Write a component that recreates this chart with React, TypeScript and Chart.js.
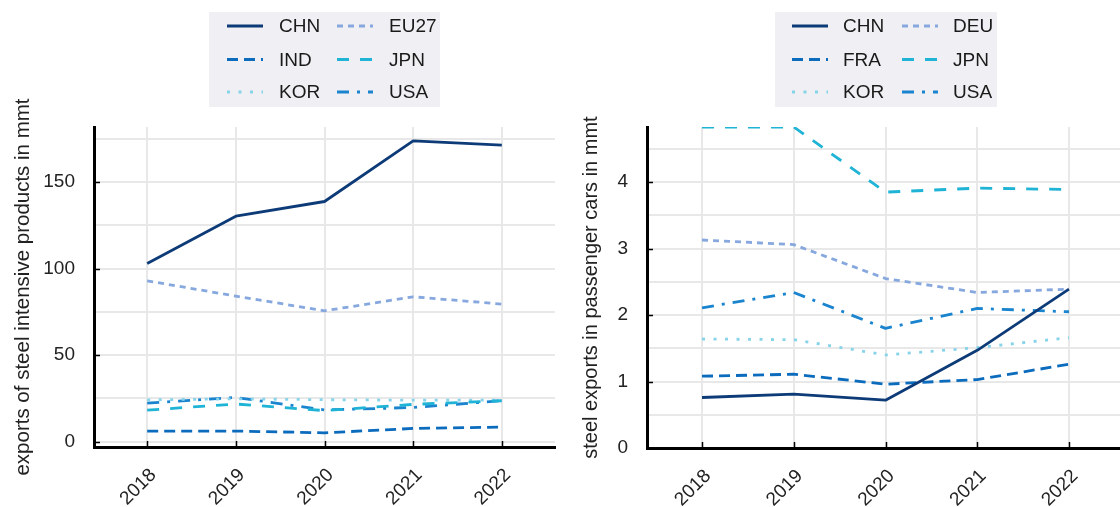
import React, { useEffect, useRef } from 'react';
import { Chart, registerables } from 'chart.js';

Chart.register(...registerables);

const FONT = '"Liberation Sans", Arial, Helvetica, sans-serif';
Chart.defaults.font.family = FONT;

// ---------- data ----------
const years = [2018, 2019, 2020, 2021, 2022];

// Left panel: exports of steel intensive products (mmt)
const leftCHN = [102.9, 130.2, 138.7, 173.7, 171.2];
const leftEU27 = [92.9, 84.1, 75.6, 83.7, 79.5];
const leftIND = [6.2, 6.2, 5.2, 7.7, 8.5];
const leftJPN = [18.3, 21.8, 18.0, 21.6, 23.7];
const leftKOR = [24.2, 24.8, 24.3, 24.0, 24.0];
const leftUSA = [22.3, 25.6, 18.4, 19.8, 23.7];
const leftYTickLabels = [0, 50, 100, 150];
const leftYGrid = [0, 25, 50, 75, 100, 125, 150, 175];

// Right panel: steel exports in passenger cars (mmt)
const rightCHN = [0.76, 0.81, 0.72, 1.47, 2.39];
const rightDEU = [3.13, 3.06, 2.55, 2.34, 2.39];
const rightFRA = [1.08, 1.11, 0.96, 1.03, 1.26];
const rightJPN = [4.83, 4.83, 3.85, 3.91, 3.89];
const rightKOR = [1.64, 1.63, 1.40, 1.51, 1.66];
const rightUSA = [2.11, 2.34, 1.80, 2.10, 2.05];
const rightYTickLabels = [0, 1, 2, 3, 4];
const rightYGrid = [0, 0.5, 1, 1.5, 2, 2.5, 3, 3.5, 4, 4.5];

// ---------- styles ----------
const STY = {
  CHN: { color: '#0d3b78', dash: [] as number[] },
  EU: { color: '#86a8de', dash: [6, 5] },
  MID: { color: '#0b6bbd', dash: [11, 6] },
  JPN: { color: '#1fb3d6', dash: [12, 11] },
  KOR: { color: '#86d3ea', dash: [3, 8.5] },
  USA: { color: '#1a84cf', dash: [12, 8, 3, 8] },
};

function ds(label: string, data: number[], s: { color: string; dash: number[] }) {
  return {
    label,
    data: data.map((y, i) => ({ x: years[i], y })),
    borderColor: s.color,
    backgroundColor: s.color,
    borderDash: s.dash,
    borderWidth: 2.8,
    borderCapStyle: 'butt',
    borderJoinStyle: 'round',
    pointRadius: 0,
    pointHoverRadius: 0,
    tension: 0,
    fill: false,
  };
}

type LegendLayout = {
  x: number; y: number; w: number; h: number;
  cols: number[]; rows: number[]; sampleLen: number; textGap: number;
};

function makePlugin(L: LegendLayout, yLabels: number[]) {
  return {
    id: 'boxLegendAndTicks',
    afterDraw(chart: any) {
      const ctx = chart.ctx as CanvasRenderingContext2D;
      const area = chart.chartArea;
      ctx.save();
      // inner tick marks
      ctx.strokeStyle = '#000';
      ctx.lineWidth = 1.5;
      ctx.setLineDash([]);
      const ys = chart.scales.y;
      yLabels.forEach((v) => {
        const p = Math.round(ys.getPixelForValue(v)) + 0.5;
        ctx.beginPath();
        ctx.moveTo(area.left, p);
        ctx.lineTo(area.left + 6, p);
        ctx.stroke();
      });
      const xs = chart.scales.x;
      years.forEach((v) => {
        const p = Math.round(xs.getPixelForValue(v)) + 0.5;
        ctx.beginPath();
        ctx.moveTo(p, area.bottom);
        ctx.lineTo(p, area.bottom - 6);
        ctx.stroke();
      });
      // legend box
      ctx.fillStyle = '#f0eff3';
      ctx.fillRect(L.x, L.y, L.w, L.h);
      chart.data.datasets.forEach((d: any, i: number) => {
        const x0 = L.cols[i % 2];
        const y0 = L.rows[Math.floor(i / 2)];
        ctx.beginPath();
        ctx.setLineDash(d.borderDash || []);
        ctx.strokeStyle = d.borderColor;
        ctx.lineWidth = d.borderWidth;
        ctx.lineCap = 'butt';
        ctx.moveTo(x0, y0);
        ctx.lineTo(x0 + L.sampleLen, y0);
        ctx.stroke();
        ctx.setLineDash([]);
        ctx.fillStyle = '#1a1a1a';
        ctx.font = `19px ${FONT}`;
        ctx.textAlign = 'left';
        ctx.textBaseline = 'middle';
        ctx.fillText(d.label, x0 + L.sampleLen + L.textGap, y0 + 1);
      });
      ctx.restore();
    },
  };
}

function makeConfig(opts: {
  datasets: any[];
  yMin: number; yMax: number;
  yGrid: number[]; yLabels: number[];
  title: string; titlePad: number; titleSize: number;
  yWidth: number; xHeight: number; padRight: number;
  legend: LegendLayout;
}) {
  const gridColor = '#e8e8e8';
  return {
    type: 'line',
    data: { datasets: opts.datasets },
    options: {
      animation: false,
      responsive: false,
      maintainAspectRatio: false,
      devicePixelRatio: 1,
      layout: { padding: { top: 127, left: 0, right: opts.padRight, bottom: 0 } },
      plugins: { legend: { display: false }, tooltip: { enabled: false } },
      scales: {
        x: {
          type: 'linear',
          min: 2017.4,
          max: 2022.6,
          afterBuildTicks: (s: any) => { s.ticks = years.map((v) => ({ value: v })); },
          afterFit: (s: any) => { s.height = opts.xHeight; },
          ticks: {
            autoSkip: false,
            maxRotation: 45,
            minRotation: 45,
            padding: 17,
            labelOffset: 6,
            color: '#222',
            font: { size: 19, family: FONT },
            callback: (v: any) => String(v),
          },
          grid: { color: gridColor, lineWidth: 2, drawTicks: false },
          border: { display: true, color: '#000', width: 3 },
        },
        y: {
          type: 'linear',
          min: opts.yMin,
          max: opts.yMax,
          afterBuildTicks: (s: any) => { s.ticks = opts.yGrid.map((v) => ({ value: v })); },
          afterFit: (s: any) => { s.width = opts.yWidth; },
          ticks: {
            autoSkip: false,
            padding: 19,
            color: '#222',
            font: { size: 19, family: FONT },
            callback: (v: any) => (opts.yLabels.includes(v) ? String(v) : ''),
          },
          grid: { color: gridColor, lineWidth: 2, drawTicks: false },
          border: { display: true, color: '#000', width: 3 },
          title: {
            display: true,
            text: opts.title,
            color: '#222',
            font: { size: opts.titleSize, family: FONT },
            padding: { top: opts.titlePad, bottom: 0 },
          },
        },
      },
    },
    plugins: [makePlugin(opts.legend, opts.yLabels)],
  };
}

export default function App() {
  const leftRef = useRef<HTMLCanvasElement | null>(null);
  const rightRef = useRef<HTMLCanvasElement | null>(null);

  useEffect(() => {
    const left = new Chart(leftRef.current as HTMLCanvasElement, makeConfig({
      datasets: [
        ds('CHN', leftCHN, STY.CHN),
        ds('EU27', leftEU27, STY.EU),
        ds('IND', leftIND, STY.MID),
        ds('JPN', leftJPN, STY.JPN),
        ds('KOR', leftKOR, STY.KOR),
        ds('USA', leftUSA, STY.USA),
      ],
      yMin: -3, yMax: 181.7,
      yGrid: leftYGrid, yLabels: leftYTickLabels,
      title: 'exports of steel intensive products in mmt', titlePad: 11, titleSize: 20.5,
      yWidth: 94, xHeight: 60, padRight: 5,
      legend: { x: 209, y: 12, w: 231, h: 95, cols: [227, 337], rows: [26, 59.5, 92], sampleLen: 36, textGap: 16 },
    }) as any);
    const right = new Chart(rightRef.current as HTMLCanvasElement, makeConfig({
      datasets: [
        ds('CHN', rightCHN, STY.CHN),
        ds('DEU', rightDEU, STY.EU),
        ds('FRA', rightFRA, STY.MID),
        ds('JPN', rightJPN, STY.JPN),
        ds('KOR', rightKOR, STY.KOR),
        ds('USA', rightUSA, STY.USA),
      ],
      yMin: 0, yMax: 4.83,
      yGrid: rightYGrid, yLabels: rightYTickLabels,
      title: 'steel exports in passenger cars in mmt', titlePad: 19, titleSize: 20,
      yWidth: 87, xHeight: 59, padRight: 2,
      legend: { x: 215, y: 12, w: 222, h: 95, cols: [232, 342], rows: [26, 59.5, 92], sampleLen: 36, textGap: 15 },
    }) as any);
    return () => { left.destroy(); right.destroy(); };
  }, []);

  return (
    <div style={{ position: 'fixed', left: 0, top: 0, width: 1120, height: 507, overflow: 'hidden', background: '#fff' }}>
      <canvas ref={leftRef} width={560} height={507} style={{ position: 'absolute', left: 0, top: 0, display: 'block' }} />
      <canvas ref={rightRef} width={566} height={507} style={{ position: 'absolute', left: 560, top: 0, display: 'block' }} />
    </div>
  );
}
